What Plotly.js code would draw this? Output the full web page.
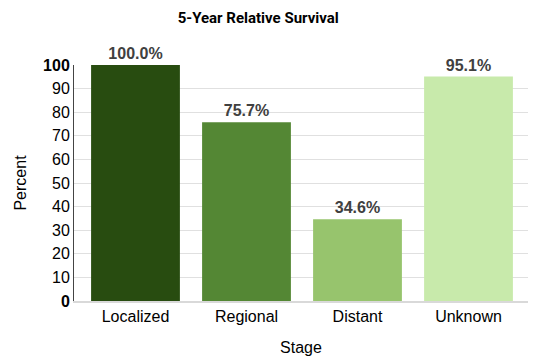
<!DOCTYPE html>
<html><head><meta charset="utf-8">
<script src="https://cdn.plot.ly/plotly-3.0.1.min.js"></script>
<style>html,body{margin:0;padding:0;background:#fff}#c{width:539px;height:364px}</style>
</head><body><div id="c"></div>
<script>
var stages = ["Localized", "Regional", "Distant", "Unknown"];
var survival = [100.0, 75.7, 34.6, 95.1];
var barColors = ["#284c10", "#548734", "#97c46d", "#c8eaab"];
var yTickVals = [0, 10, 20, 30, 40, 50, 60, 70, 80, 90, 100];
var yTickText = ["<b>0</b>", "10", "20", "30", "40", "50", "60", "70", "80", "90", "<b>100</b>"];

var fontFam = "Liberation Sans, Arial, sans-serif";
var trace = {
  type: "bar",
  x: stages,
  y: survival,
  marker: {color: barColors},
  width: 0.8,
  text: survival.map(function(v){ return "<b>" + v.toFixed(1) + "%</b>"; }),
  textposition: "outside",
  cliponaxis: false,
  textfont: {family: fontFam, size: 16, color: "#404040"},
  hoverinfo: "none"
};

var layout = {
  width: 539, height: 364,
  margin: {l: 74, r: 11, t: 65, b: 63},
  paper_bgcolor: "#fff", plot_bgcolor: "#fff",
  showlegend: false,
  title: {text: "<b>5-Year Relative Survival</b>", x: 0.479, xanchor: "center", y: 0.95, yanchor: "middle",
          font: {family: "Roboto, sans-serif", size: 15, color: "#000"}},
  xaxis: {
    range: [-0.554, 3.536],
    showgrid: false,
    showline: true, linecolor: "#d9d9d9", linewidth: 2,
    ticks: "",
    tickfont: {family: fontFam, size: 16, color: "#000"},
    title: {text: "Stage", font: {family: fontFam, size: 16, color: "#000"}, standoff: 18}
  },
  yaxis: {
    range: [0, 100],
    tickvals: yTickVals, ticktext: yTickText,
    showgrid: true, gridcolor: "#e0e0e0", gridwidth: 1,
    zeroline: false,
    showline: true, linecolor: "#444", linewidth: 1,
    ticks: "",
    tickfont: {family: fontFam, size: 16, color: "#000"},
    title: {text: "Percent", font: {family: fontFam, size: 16, color: "#000"}, standoff: 12}
  }
};

Plotly.newPlot("c", [trace], layout, {displayModeBar: false, staticPlot: true});
</script></body></html>
